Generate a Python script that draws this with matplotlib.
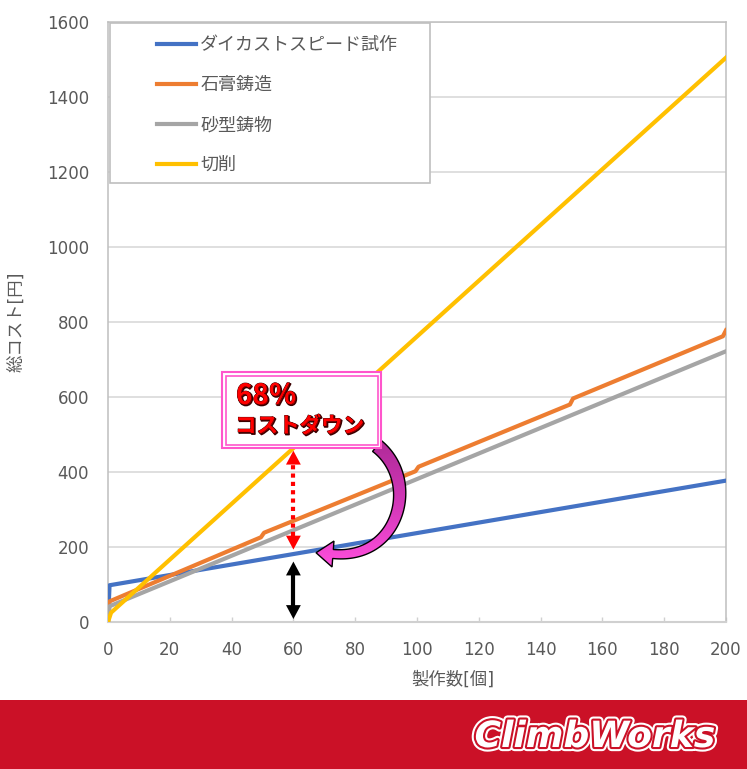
import numpy as np
import matplotlib.pyplot as plt
import matplotlib.patheffects as pe
from matplotlib.patches import Rectangle, Polygon
from matplotlib.colors import LinearSegmentedColormap

# 製作数とコスト(読み取り値)
n_die = [0, 0.5, 200]
cost_die = [0, 98, 377]
n_plaster = [0, 0.5, 49.5, 50.5, 99.5, 100.5, 149.5, 150.5, 199, 200]
cost_plaster = [0, 55, 226, 238, 402, 414, 580, 596, 762, 778]
n_sand = [0, 0.5, 200]
cost_sand = [0, 42, 722]
n_cut = [0, 1, 200]
cost_cut = [0, 25, 1505]

labels = ['ダイカストスピード試作', '石膏鋳造', '砂型鋳物', '切削']
colors = ['#4472C4', '#ED7D31', '#A5A5A5', '#FFC000']
x_ticks = np.arange(0, 201, 20)
y_ticks = np.arange(0, 1601, 200)
n_mark = 60

plt.rcParams['font.family'] = ['DejaVu Sans', 'Noto Sans CJK JP']
grey_txt = '#595959'
red_band = '#CB1127'

W, H = 747, 769
fig = plt.figure(figsize=(W / 100, H / 100), dpi=100)
ax = fig.add_axes([108 / W, 1 - 622 / H, 618 / W, 600 / H])

series = [(n_die, cost_die), (n_plaster, cost_plaster), (n_sand, cost_sand), (n_cut, cost_cut)]
lines = []
for (xs, ys), c, lab in zip(series, colors, labels):
    ln, = ax.plot(xs, ys, color=c, lw=3, label=lab, solid_joinstyle='round', zorder=3)
    lines.append(ln)

ax.set_xlim(0, 200)
ax.set_ylim(0, 1600)
ax.set_xticks(x_ticks)
ax.set_yticks(y_ticks)
ax.grid(axis='y', color='#D9D9D9', lw=1.2)
ax.set_axisbelow(True)
for s in ['top', 'right', 'left']:
    ax.spines[s].set_color('#BFBFBF')
    ax.spines[s].set_linewidth(1.1)
ax.spines['bottom'].set_color('#D0D0D0')
ax.spines['bottom'].set_linewidth(1.5)
ax.tick_params(axis='x', direction='in', length=3.5, width=1, color='#D0D0D0',
               pad=14, labelsize=12, labelcolor=grey_txt)
ax.tick_params(axis='y', length=0, pad=13.5, labelsize=12, labelcolor=grey_txt)
for lab in ax.get_xticklabels() + ax.get_yticklabels():
    lab.set_fontfamily('DejaVu Sans')

ax.set_xlabel('製作数[個]', fontsize=12.5, color=grey_txt, va='center', ha='center')
ax.xaxis.set_label_coords((453 - 108) / 618, (622 - 680) / 600)
ax.set_ylabel('総コスト[円]', fontsize=12.5, color=grey_txt, va='center', ha='center')
ax.yaxis.set_label_coords((17 - 108) / 618, 0.5)

# 凡例
ax.add_patch(Rectangle((110 / W, 1 - 183 / H), 320 / W, 160 / H, transform=fig.transFigure,
                       fc='white', ec='#BFBFBF', lw=1.2, zorder=4, clip_on=False))
leg = ax.legend(handles=lines, loc='upper left', bbox_to_anchor=(157 / W, 1 - 36 / H),
                bbox_transform=fig.transFigure, frameon=False, borderpad=0, borderaxespad=0,
                handlelength=2.17, handletextpad=0.22, labelspacing=1.22, fontsize=13,
                labelcolor=grey_txt)
leg.set_zorder(5)

# x=60 の矢印
top_val = np.interp(n_mark, n_cut, cost_cut)
bot_val = np.interp(n_mark, n_die, cost_die)
hl, hw = 37, 2.4


def head(tip, base, color):
    ax.add_patch(Polygon([(n_mark - hw, base), (n_mark + hw, base), (n_mark, tip)],
                         closed=True, fc=color, ec='none', zorder=6))


r_top, r_bot = top_val - 7, bot_val + 12
ax.plot([n_mark, n_mark], [r_bot + hl, r_top - hl], color='#FF0000', lw=3,
        ls=(0, (1, 1)), dash_capstyle='butt', zorder=6)
head(r_top, r_top - hl, '#FF0000')
head(r_bot, r_bot + hl, '#FF0000')

k_top, k_bot = bot_val - 20, 8
ax.plot([n_mark, n_mark], [k_bot + hl - 2, k_top - hl + 2], color='black', lw=3, zorder=6)
head(k_top, k_top - hl, 'black')
head(k_bot, k_bot + hl, 'black')

# 重ね描き用(ピクセル座標)
ov = fig.add_axes([0, 0, 1, 1], zorder=2)
ov.axis('off')

# 曲がった矢印
ctrl = np.array([(377, 446), (420, 480), (400, 560), (333, 554)], float)
t = np.linspace(0, 1, 80)[:, None]
c = (1 - t) ** 3 * ctrl[0] + 3 * t * (1 - t) ** 2 * ctrl[1] + 3 * t ** 2 * (1 - t) * ctrl[2] + t ** 3 * ctrl[3]
d = np.gradient(c, axis=0)
nrm = np.stack([-d[:, 1], d[:, 0]], 1) / np.hypot(d[:, 0], d[:, 1])[:, None]
w = np.linspace(7, 4.5, len(c))[:, None]
left = c + nrm * w
right = c - nrm * w
de = d[-1] / np.hypot(*d[-1])
pe_ = np.array([-de[1], de[0]])
base = c[-1]
poly = np.vstack([left, base + pe_ * 13, base + de * 17, base - pe_ * 13, right[::-1]])
clip = Polygon(poly, closed=True, fc='none', ec='none')
ov.add_patch(clip)
cmap = LinearSegmentedColormap.from_list('mg', ['#B02A98', '#D238B8', '#FF4FDD'])
grad = np.linspace(0, 1, 100)[:, None] * np.ones((1, 10))
im = ov.imshow(grad, cmap=cmap, aspect='auto', origin='upper',
               extent=(poly[:, 0].min(), poly[:, 0].max(), poly[:, 1].max(), poly[:, 1].min()))
im.set_clip_path(clip)
ov.add_patch(Polygon(poly, closed=True, fc='none', ec='black', lw=1))

# 68% ボックス
ov.add_patch(Rectangle((222, 372), 159, 76, fc='white', ec='#FF55CC', lw=1.5))
ov.add_patch(Rectangle((225.5, 375.5), 152, 69, fc='none', ec='#FF55CC', lw=1.2))
fx = [pe.Stroke(linewidth=1.2, foreground='#3a0000', offset=(0.8, -0.8)),
      pe.Stroke(linewidth=0.6, foreground='#3a0000'), pe.Normal()]
ov.text(236, 396, '68％', color='#FF0000', fontsize=20, fontweight='bold',
        family='Noto Sans CJK JP', va='center', ha='left', path_effects=fx)
ov.text(235, 426, 'コストダウン', color='#FF0000', fontsize=15.5, fontweight='bold',
        family='Noto Sans CJK JP', va='center', ha='left', path_effects=fx)

# 下の帯とロゴ
ov.add_patch(Rectangle((0, 699.5), W, H - 699.5, fc=red_band, ec='none'))
ov.text(595, 737, 'ClimbWorks', ha='center', va='center', fontsize=26, fontweight='heavy',
        style='italic', family='DejaVu Sans', color='white',
        path_effects=[pe.Stroke(linewidth=6, foreground='white'),
                      pe.Stroke(linewidth=3, foreground=red_band), pe.Normal()])

ov.set_xlim(0, W)
ov.set_ylim(H, 0)

fig.savefig('out.png', dpi=100)
